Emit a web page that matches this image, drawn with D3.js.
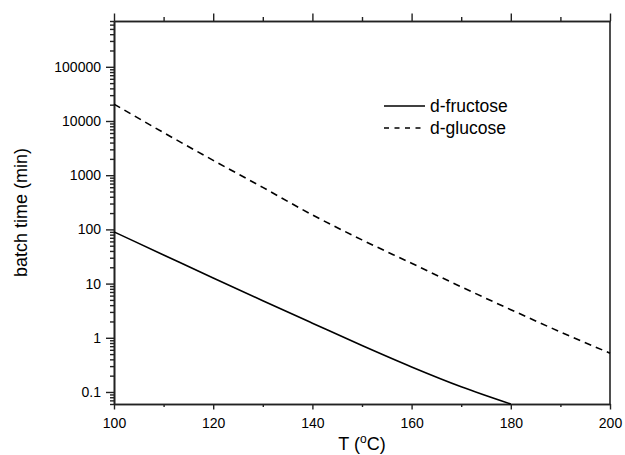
<!DOCTYPE html>
<html>
  <head>
    <meta charset="utf-8">
    <title>batch time</title>
    <style>
      body{ margin: 0; background: #fff; }
      svg{ display: block; }
      text{ font-family: Arial, 'Liberation Sans', sans-serif; fill: #000; }
      .axis path{ stroke: #222; stroke-width: 1.6px; }
      .axis line{ stroke: #222; stroke-width: 1.4px; }
      path.curve{ fill: none; stroke: #000; stroke-width: 1.6px; }
    </style>
  </head>
  <body>
  <script src="https://d3js.org/d3.v7.min.js"></script>
  <script>
const width = 625;
const height = 455;

// temperatures (deg C) and batch times (min)
const tempFructose = [100, 110, 120, 130, 140, 150, 160, 170, 180];
const timeFructose = [90, 33.8, 12.7, 4.83, 1.86, 0.72, 0.29, 0.125, 0.06];
const tempGlucose = [100, 110, 120, 130, 140, 150, 160, 170, 180, 190, 200];
const timeGlucose = [20500, 6100, 1880, 595, 185, 64, 23.7, 8.7, 3.3, 1.28, 0.52];

const xMajor = [100, 120, 140, 160, 180, 200];
const xMinor = [110, 130, 150, 170, 190];
const yMajor = [0.1, 1, 10, 100, 1000, 10000, 100000];
const yLabels = ['0.1', '1', '10', '100', '1000', '10000', '100000'];
const seriesNames = ['d-fructose', 'd-glucose'];

const m = { left: 114, right: 15, top: 21, bottom: 51 };

const x = d3.scaleLinear()
  .domain([100, 200])
  .range([m.left, width - m.right]);

const y = d3.scaleLog()
  .domain([0.06, 700000])
  .range([height - m.bottom, m.top]);

const svg = d3.select('body')
  .append('svg')
  .attr('width', width)
  .attr('height', height);

const x0 = m.left, x1 = width - m.right;
const y0 = height - m.bottom, y1 = m.top;

const yMinor = y.ticks(60).filter((v) => !yMajor.some((t) => Math.abs(t - v) / t < 1e-6));

// bottom axis
svg.append('g')
  .attr('class', 'axis')
  .attr('transform', `translate(0,${y0})`)
  .call(d3.axisBottom(x).tickValues(xMinor).tickSize(3).tickFormat('').tickSizeOuter(0));
svg.append('g')
  .attr('class', 'axis')
  .attr('transform', `translate(0,${y0})`)
  .call(d3.axisBottom(x).tickValues(xMajor).tickSize(5.5).tickPadding(9).tickSizeOuter(0))
  .selectAll('text').style('font-size', '14px');

// top axis, ticks only
svg.append('g')
  .attr('class', 'axis')
  .attr('transform', `translate(0,${y1})`)
  .call(d3.axisTop(x).tickValues(xMinor).tickSize(4).tickFormat('').tickSizeOuter(0));
svg.append('g')
  .attr('class', 'axis')
  .attr('transform', `translate(0,${y1})`)
  .call(d3.axisTop(x).tickValues(xMajor).tickSize(7.5).tickFormat('').tickSizeOuter(0));

// left axis
svg.append('g')
  .attr('class', 'axis')
  .attr('transform', `translate(${x0},0)`)
  .call(d3.axisLeft(y).tickValues(yMinor).tickSize(4).tickFormat('').tickSizeOuter(0));
svg.append('g')
  .attr('class', 'axis')
  .attr('transform', `translate(${x0},0)`)
  .call(d3.axisLeft(y).tickValues(yMajor).tickSize(8).tickPadding(5)
    .tickFormat((d, i) => yLabels[i]).tickSizeOuter(0))
  .selectAll('text').style('font-size', '14px');

// right edge of the frame
svg.append('line')
  .attr('x1', x1).attr('x2', x1)
  .attr('y1', y1).attr('y2', y0)
  .attr('stroke', '#222')
  .attr('stroke-width', 1.6);

// curves
const line = d3.line()
  .x((d) => x(d[0]))
  .y((d) => y(d[1]))
  .curve(d3.curveMonotoneX);

svg.append('path')
  .attr('class', 'curve')
  .attr('d', line(d3.zip(tempFructose, timeFructose)));

svg.append('path')
  .attr('class', 'curve')
  .attr('stroke-dasharray', '7,5')
  .attr('d', line(d3.zip(tempGlucose, timeGlucose)));

// legend
const legend = svg.append('g').attr('transform', 'translate(384,106)');
seriesNames.forEach((name, i) => {
  const row = legend.append('g').attr('transform', `translate(0,${i * 22})`);
  row.append('line')
    .attr('x1', 0).attr('x2', 41)
    .attr('stroke', '#000')
    .attr('stroke-width', 1.6)
    .attr('stroke-dasharray', i === 1 ? '5,5.5' : null);
  row.append('text')
    .attr('x', 46)
    .attr('dy', '0.35em')
    .style('font-size', '17.5px')
    .text(name);
});

// axis titles
const xt = svg.append('text')
  .attr('x', (x0 + x1) / 2)
  .attr('y', 450)
  .attr('text-anchor', 'middle')
  .style('font-size', '18px');
xt.append('tspan').text('T (');
xt.append('tspan').attr('dy', -7).style('font-size', '12px').text('o');
xt.append('tspan').attr('dy', 7).text('C)');

svg.append('text')
  .attr('transform', `translate(27,${(y0 + y1) / 2}) rotate(-90)`)
  .attr('text-anchor', 'middle')
  .style('font-size', '18px')
  .text('batch time (min)');
  </script>
  </body>
</html>
